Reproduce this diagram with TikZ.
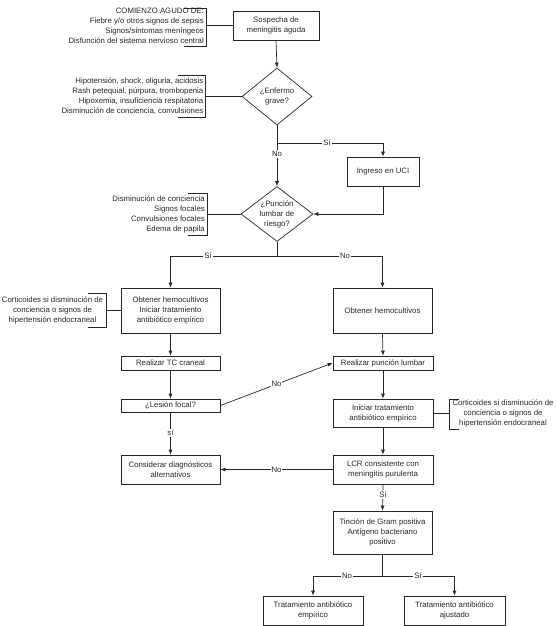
\documentclass[tikz,border=0pt]{standalone}
\usepackage{fontspec}
\setmainfont{Liberation Sans}
\usetikzlibrary{shapes.geometric,arrows.meta}
\begin{document}
\begin{tikzpicture}[x=1pt,y=-1pt,
  every node/.style={font=\fontsize{7.8}{10}\selectfont, text=black!85},
  ln/.style={draw=black!85, line width=0.7pt},
  arr/.style={ln, -{Latex[length=5pt,width=4pt]}},
  box/.style={ln, rectangle, inner sep=0pt, align=center, minimum width=#1},
  box/.default=99pt,
  dia/.style={ln, diamond, inner sep=0pt},
  lbl/.style={fill=white, inner sep=1pt},
  note/.style={align=right, inner sep=0pt},
  notec/.style={align=center, inner sep=0pt}
]
\useasboundingbox (0,0) rectangle (555,626);

% ---------- main nodes ----------
\node[box=86pt, minimum height=29pt] (sosp) at (276,25.5) {Sospecha de\\meningitis aguda};
\node[dia, minimum width=70pt, minimum height=57pt] (enf) at (277,96.5) {};
\node[align=center, inner sep=0pt] (enft) at (enf.center) {¿Enfermo\\grave?};
\node[box=72pt, minimum height=29pt] (uci) at (383,171.5) {Ingreso en UCI};
\node[dia, minimum width=72pt, minimum height=55pt] (pun) at (277,214) {};
\node[align=center, inner sep=0pt] (punt) at (pun.center) {¿Punción\\lumbar de\\riesgo?};

\node[box, minimum height=45pt] (obt1) at (170.5,310.5) {Obtener hemocultivos\\Iniciar tratamiento\\antibiótico empírico};
\node[box, minimum height=45pt] (obt2) at (382.5,310.5) {Obtener hemocultivos};
\node[box, minimum height=14pt] (tc) at (170.5,363) {Realizar TC craneal};
\node[box, minimum height=13pt] (les) at (170.5,405.5) {¿Lesión focal?};
\node[box, minimum height=29pt] (cons) at (170.5,469.5) {Considerar diagnósticos\\alternativos};
\node[box=100pt, minimum height=14pt] (pl) at (383,363) {Realizar punción lumbar};
\node[box=100pt, minimum height=28pt] (ini) at (383,413) {Iniciar tratamiento\\antibiótico empírico};
\node[box=100pt, minimum height=29pt] (lcr) at (383,469.5) {LCR consistente con\\meningitis purulenta};
\node[box, minimum height=43pt] (tin) at (382.5,532.5) {Tinción de Gram positiva\\Antígeno bacteriano\\positivo};
\node[box=100pt, minimum height=29pt] (emp) at (313,610.5) {Tratamiento antibiótico\\empírico};
\node[box=101pt, minimum height=29pt] (aju) at (454.5,610.5) {Tratamiento antibiótico\\ajustado};

% ---------- side notes (brackets) ----------
\node[note, anchor=east] (n1) at (204,25.5) {COMIENZO AGUDO DE:\\Fiebre y/o otros signos de sepsis\\Signos/síntomas meníngeos\\Disfunción del sistema nervioso central};
\draw[ln] (184,8) -- (206,8) -- (206,46) -- (184,46);
\coordinate (k1) at (206,25.5);
\draw[ln] (k1) -- (sosp.west);

\node[note, anchor=east] (n2) at (203.5,96.5) {Hipotensión, shock, oliguria, acidosis\\Rash petequial, púrpura, trombopenia\\Hipoxemia, insuficiencia respitatoria\\Disminución de conciencia, convulsiones};
\draw[ln] (178,75) -- (205,75) -- (205,117) -- (178,117);
\coordinate (k2) at (205,96.5);
\draw[ln] (k2) -- (enf.west);

\node[note, anchor=east] (n3) at (205,214) {Disminución de conciencia\\Signos focales\\Convulsiones focales\\Edema de papila};
\draw[ln] (188,193) -- (207,193) -- (207,235) -- (188,235);
\coordinate (k3) at (207,214);
\draw[ln] (k3) -- (pun.west);

\node[notec] (n4) at (52.5,310) {Corticoides si disminución de\\conciencia o signos de\\hipertensión endocraneal};
\draw[ln] (88,293) -- (106,293) -- (106,327) -- (88,327);
\coordinate (k4) at (106,310.5);
\draw[ln] (k4) -- (obt1.west);

\node[notec] (n5) at (503,413) {Corticoides si disminución de\\conciencia o signos de\\hipertensión endocraneal};
\draw[ln] (459,399) -- (449,399) -- (449,429) -- (459,429);
\coordinate (k5) at (449,413);
\draw[ln] (ini.east) -- (k5);

% ---------- connectors ----------
\draw[arr] (sosp.south) -- (enf.north);

\coordinate (b1) at (277,143);
\draw[arr] (enf.south) -- (pun.north);
\node[lbl] (lno1) at (277,154) {No};
\draw[arr] (b1) -| (uci.north);
\node[lbl] (lsi1) at (327,143) {Sí};
\draw[arr] (uci.south) |- (pun.east);

\coordinate (b2) at (277,256);
\draw[ln] (pun.south) -- (b2);
\draw[arr] (b2) -| (obt1.north);
\draw[arr] (b2) -| (obt2.north);
\node[lbl] (lsi2) at (208,256) {Sí};
\node[lbl] (lno2) at (345,256) {No};

\draw[arr] (obt1.south) -- (tc.north);
\draw[arr] (tc.south) -- (les.north);
\draw[arr] (les.south) -- (cons.north);
\node[lbl] (lsi3) at (170.5,433) {sí};
\draw[arr] (les.east) -- node[lbl] (lno3) {No} (pl.west);

\draw[arr] (obt2.south) -- (pl.north);
\draw[arr] (pl.south) -- (ini.north);
\draw[arr] (ini.south) -- (lcr.north);
\draw[arr] (lcr.west) -- node[lbl] (lno4) {No} (cons.east);
\draw[arr] (lcr.south) -- (tin.north);
\node[lbl] (lsi4) at (383,495) {Sí};

\coordinate (b3) at (382.5,576);
\draw[ln] (tin.south) -- (b3);
\draw[arr] (b3) -| (emp.north);
\draw[arr] (b3) -| (aju.north);
\node[lbl] (lno5) at (347,576) {No};
\node[lbl] (lsi5) at (418,576) {Sí};
\end{tikzpicture}
\end{document}
